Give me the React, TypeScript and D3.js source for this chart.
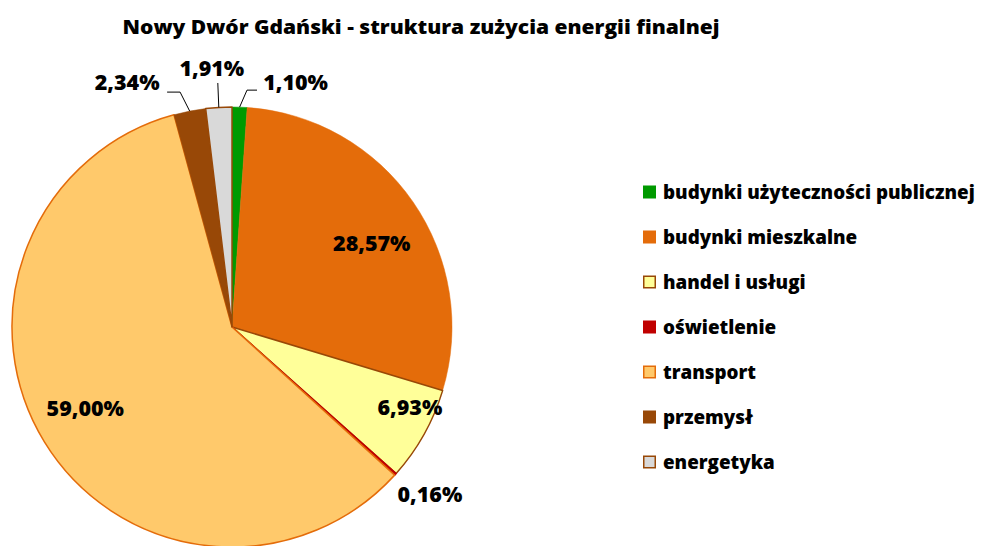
import React from "react";
import * as d3 from "d3";

const title = "Nowy Dwór Gdański - struktura zużycia energii finalnej";
const categories = [
  "budynki użyteczności publicznej",
  "budynki mieszkalne",
  "handel i usługi",
  "oświetlenie",
  "transport",
  "przemysł",
  "energetyka",
];
const values = [1.1, 28.57, 6.93, 0.16, 59.0, 2.34, 1.91];
const valueLabels = ["1,10%", "28,57%", "6,93%", "0,16%", "59,00%", "2,34%", "1,91%"];

// styles
const fills = ["#009A00", "#E46C0A", "#FFFF99", "#C00000", "#FFC96B", "#984807", "#D9D9D9"];
const strokes = ["none", "none", "#984807", "#C00000", "#E46C0A", "none", "#984807"];

// label layout relative to anchor (edge midpoint for outside labels, inner centroid for inside)
type Lay = { inside: boolean; dx: number; dy: number; leader?: [number, number][] };
const layout: Lay[] = [
  { inside: false, dx: 56, dy: -25, leader: [[7.4, -17], [17.4, -17]] },
  { inside: true, dx: 4, dy: 10 },
  { inside: true, dx: 34, dy: 0 },
  { inside: false, dx: 34.5, dy: 20 },
  { inside: true, dx: -6, dy: -5 },
  { inside: false, dx: -62.6, dy: -29, leader: [[-9.6, -19], [-22.6, -19]] },
  { inside: false, dx: -7, dy: -39.4, leader: [[-1, -24.4]] },
];

const W = 985;
const H = 546;
const cx = 232;
const cy = 327;
const R = 220;
const FONT = "'Open Sans', 'Noto Sans', 'DejaVu Sans', sans-serif";

export default function App() {
  const pie = d3
    .pie<number>()
    .sort(null)
    .value((d) => d)
    .startAngle(0)
    .endAngle(2 * Math.PI);
  const arcs = pie(values);
  const arcGen = d3.arc<d3.PieArcDatum<number>>().innerRadius(0).outerRadius(R);

  const polar = (a: number, r: number): [number, number] => [Math.sin(a) * r, -Math.cos(a) * r];

  const legendX = 643;
  const legendY0 = 192;
  const legendStep = 45;

  return (
    <svg
      width={W}
      height={H}
      style={{ position: "absolute", left: 0, top: 0, background: "#fff" }}
      fontFamily={FONT}
    >
      <text
        x={421}
        y={34}
        textAnchor="middle"
        fontSize={19}
        fontWeight={800}
        fill="#000"
        textLength={597}
        lengthAdjust="spacingAndGlyphs"
      >
        {title}
      </text>
      <g transform={`translate(${cx},${cy})`}>
        {arcs.map((a, i) => (
          <path
            key={i}
            d={arcGen(a) || ""}
            fill={fills[i]}
            stroke={strokes[i] === "none" ? fills[i] : strokes[i]}
            strokeWidth={strokes[i] === "none" ? 0.5 : 1.5}
            strokeLinejoin="round"
          />
        ))}
        {arcs.map((a, i) => {
          const mid = (a.startAngle + a.endAngle) / 2;
          const lay = layout[i];
          const anchor = lay.inside ? polar(mid, R * 0.75) : polar(mid, R);
          const lx = anchor[0] + lay.dx;
          const ly = anchor[1] + lay.dy;
          const pts: [number, number][] = [anchor];
          if (lay.leader) lay.leader.forEach((p) => pts.push([anchor[0] + p[0], anchor[1] + p[1]]));
          return (
            <g key={i}>
              {lay.leader && (
                <path
                  d={d3.line()(pts) || ""}
                  fill="none"
                  stroke="#000"
                  strokeWidth={1}
                />
              )}
              <text
                x={lx}
                y={ly}
                dy="0.36em"
                textAnchor="middle"
                fontSize={21.5}
                fontWeight={800}
                fill="#000"
              >
                {valueLabels[i]}
              </text>
            </g>
          );
        })}
      </g>
      <g>
        {categories.map((c, i) => {
          const y = legendY0 + i * legendStep;
          const hasStroke = strokes[i] !== "none" && strokes[i] !== fills[i];
          return (
            <g key={c}>
              <rect
                x={hasStroke ? legendX + 0.75 : legendX}
                y={hasStroke ? y - 6.5 + 0.75 : y - 6.5}
                width={hasStroke ? 11.5 : 13}
                height={hasStroke ? 11.5 : 13}
                fill={fills[i]}
                stroke={hasStroke ? strokes[i] : "none"}
                strokeWidth={1.5}
              />
              <text x={663} y={y} dy="0.36em" fontSize={18.8} fontWeight={800} fill="#000">
                {c}
              </text>
            </g>
          );
        })}
      </g>
    </svg>
  );
}
